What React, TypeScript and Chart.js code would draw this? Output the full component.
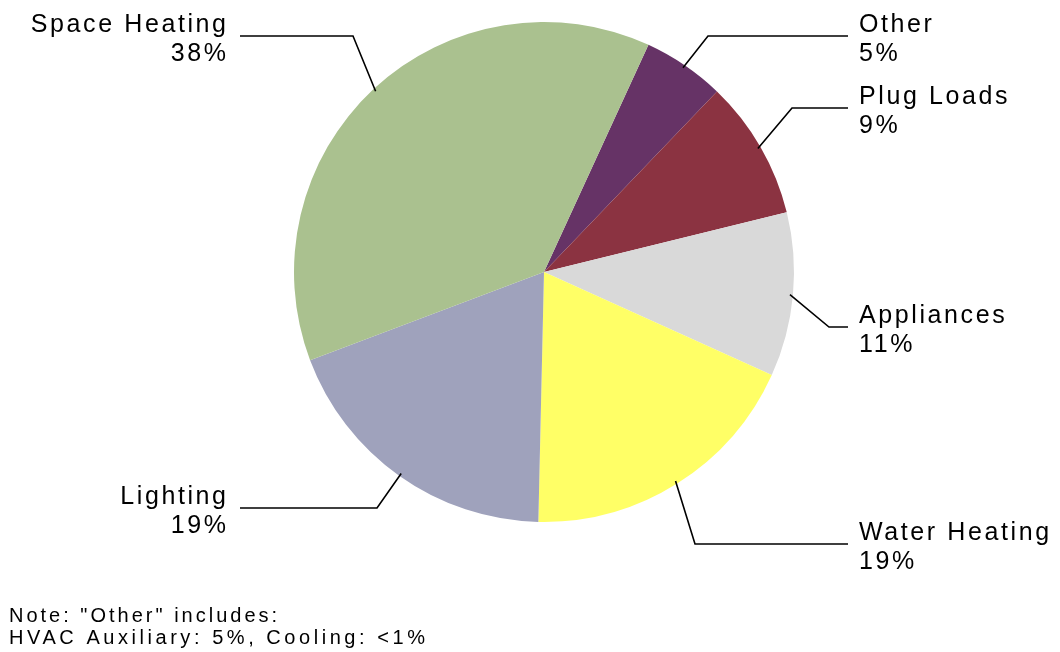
import React, { useEffect, useRef } from "react";
import { Chart, registerables } from "chart.js";

Chart.register(...registerables);

// Data (clockwise from the top-right)
const categories = ["Other", "Plug Loads", "Appliances", "Water Heating", "Lighting", "Space Heating"];
const shares = [5.3, 9.0, 10.6, 18.6, 18.9, 37.6];
const sliceColors = ["#663366", "#8B3341", "#D9D9D9", "#FFFF66", "#9FA2BC", "#AAC18F"];
const noteLines = ['Note: "Other" includes:', "HVAC Auxiliary: 5%, Cooling: <1%"];

// Label layout: elbow point of the leader line and side of the label
const labelLayout = [
  { ex: 708, ey: 36, side: "right" },
  { ex: 792, ey: 108, side: "right" },
  { ex: 829, ey: 327, side: "right" },
  { ex: 695, ey: 544, side: "right" },
  { ex: 377, ey: 508, side: "left" },
  { ex: 353, ey: 36, side: "left" },
];

const FONT = '"Liberation Sans", Arial, sans-serif';

const labelPlugin = {
  id: "leaderLabels",
  afterDraw(chart: any) {
    const ctx = chart.ctx as CanvasRenderingContext2D;
    const meta = chart.getDatasetMeta(0);
    const values = chart.data.datasets[0].data as number[];
    ctx.save();
    meta.data.forEach((arc: any, i: number) => {
      const { x, y, startAngle, endAngle, outerRadius } = arc.getProps(
        ["x", "y", "startAngle", "endAngle", "outerRadius"],
        true
      );
      const mid = (startAngle + endAngle) / 2;
      const r = outerRadius - 3;
      const sx = x + Math.cos(mid) * r;
      const sy = y + Math.sin(mid) * r;
      const lay = labelLayout[i];
      const endX = lay.side === "right" ? 848 : 240;
      ctx.strokeStyle = "#000";
      ctx.lineWidth = 1.6;
      ctx.beginPath();
      ctx.moveTo(sx, sy);
      ctx.lineTo(lay.ex, lay.ey);
      ctx.lineTo(endX, lay.ey);
      ctx.stroke();

      ctx.fillStyle = "#000";
      ctx.font = `25px ${FONT}`;
      (ctx as any).letterSpacing = "2.6px";
      ctx.textBaseline = "alphabetic";
      const pct = Math.round(values[i]) + "%";
      if (lay.side === "right") {
        ctx.textAlign = "left";
        ctx.fillText(chart.data.labels[i], 859, lay.ey - 4);
        ctx.fillText(pct, 859, lay.ey + 25);
      } else {
        ctx.textAlign = "right";
        ctx.fillText(chart.data.labels[i], 228.6, lay.ey - 4);
        ctx.fillText(pct, 228.6, lay.ey + 25);
      }
    });

    ctx.font = `20px ${FONT}`;
    ctx.textAlign = "left";
    ctx.fillStyle = "#000";
    (ctx as any).letterSpacing = "3px";
    ctx.fillText(noteLines[0], 9, 621.5);
    (ctx as any).letterSpacing = "3.55px";
    ctx.fillText(noteLines[1], 9, 644);
    ctx.restore();
  },
};

export default function App() {
  const ref = useRef<HTMLCanvasElement | null>(null);
  useEffect(() => {
    if (!ref.current) return;
    const chart = new Chart(ref.current, {
      type: "pie",
      data: {
        labels: categories,
        datasets: [
          {
            data: shares,
            backgroundColor: sliceColors,
            borderWidth: 0,
          },
        ],
      },
      options: {
        responsive: false,
        animation: false,
        devicePixelRatio: 1,
        rotation: 24.7,
        layout: { padding: { top: 22, bottom: 130, left: 293, right: 265 } },
        plugins: {
          legend: { display: false },
          tooltip: { enabled: false },
          title: { display: false },
        },
      },
      plugins: [labelPlugin],
    });
    return () => chart.destroy();
  }, []);
  return (
    <div style={{ position: "fixed", left: 0, top: 0, width: 1060, height: 652, background: "#fff" }}>
      <canvas ref={ref} width={1060} height={652} style={{ width: 1060, height: 652, display: "block" }} />
    </div>
  );
}
